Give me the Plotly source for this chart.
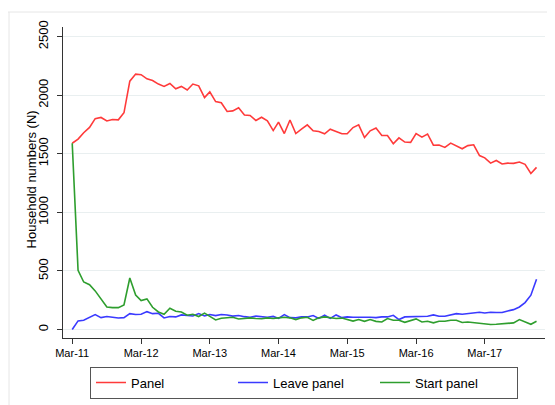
import pandas as pd
import plotly.graph_objects as go

months = pd.date_range("2011-03-01", periods=82, freq="MS")

panel = [1590, 1625, 1680, 1725, 1800, 1810, 1780, 1793, 1790, 1850,
         2120, 2180, 2175, 2140, 2125, 2095, 2075, 2100, 2055, 2075,
         2045, 2095, 2080, 1980, 2028, 1945, 1935, 1861, 1866, 1893,
         1831, 1827, 1784, 1812, 1781, 1698, 1770, 1673, 1788, 1673,
         1710, 1747, 1696, 1690, 1671, 1710, 1690, 1671, 1671, 1724,
         1747, 1639, 1696, 1720, 1656, 1656, 1585, 1636, 1600, 1598,
         1672, 1642, 1669, 1573, 1574, 1554, 1591, 1568, 1543, 1570,
         1577, 1485, 1465, 1420, 1443, 1413, 1420, 1418, 1430, 1410,
         1332, 1384]

leave_panel = [0, 74, 80, 102, 128, 102, 111, 105, 99, 102,
               136, 128, 131, 153, 136, 139, 99, 111, 108, 125,
               122, 116, 136, 116, 128, 119, 128, 125, 115, 120,
               110, 105, 115, 110, 105, 112, 95, 128, 102, 100,
               108, 108, 120, 95, 122, 95, 125, 102, 108, 105,
               102, 105, 105, 102, 108, 108, 122, 85, 108, 108,
               108, 108, 114, 125, 114, 114, 122, 136, 131, 136,
               142, 148, 142, 148, 145, 145, 159, 170, 193, 230,
               293, 430]

start_panel = [1590, 506, 406, 383, 330, 264, 193, 187, 187, 210,
               440, 295, 247, 262, 190, 150, 131, 182, 156, 150,
               122, 131, 111, 140, 115, 82, 97, 100, 105, 90,
               95, 100, 95, 92, 100, 95, 100, 105, 100, 85,
               100, 105, 78, 100, 108, 100, 95, 98, 85, 72,
               85, 70, 85, 70, 65, 94, 80, 80, 62, 74,
               91, 65, 71, 57, 71, 71, 80, 80, 60, 65,
               60, 51, 51, 43, 45, 51, 51, 57, 85, 62,
               45, 71]

tick_dates = ["2011-03-01", "2012-03-01", "2013-03-01", "2014-03-01",
              "2015-03-01", "2016-03-01", "2017-03-01"]
tick_labels = ["Mar-11", "Mar-12", "Mar-13", "Mar-14", "Mar-15", "Mar-16", "Mar-17"]
y_ticks = [0, 500, 1000, 1500, 2000, 2500]
y_title = "Household numbers (N)"

series = [("Panel", panel, "#ff3a3a"),
          ("Leave panel", leave_panel, "#3a3aff"),
          ("Start panel", start_panel, "#2e9e2e")]

fig = go.Figure()
for name, vals, col in series:
    fig.add_trace(go.Scatter(x=months, y=vals, mode="lines", name=name,
                             line=dict(color=col, width=1.6)))

font_family = "Liberation Sans, Arial, sans-serif"
fig.update_layout(
    width=547, height=397,
    margin=dict(l=55, r=10, t=19, b=67, autoexpand=False),
    paper_bgcolor="white", plot_bgcolor="white",
    font=dict(family=font_family, color="black", size=13),
    showlegend=True,
    legend=dict(orientation="h", x=0.5, xanchor="center", y=-0.092, yanchor="top",
                bordercolor="#555555", borderwidth=1, bgcolor="white",
                font=dict(size=13), entrywidth=97, entrywidthmode="pixels",
                traceorder="normal"),
    xaxis=dict(type="date", range=["2011-01-11", "2018-01-15"],
               tickvals=tick_dates, ticktext=tick_labels, automargin=False,
               tickfont=dict(size=11), ticks="outside", ticklen=5, tickcolor="#333333",
               showline=True, linecolor="#333333", linewidth=1,
               showgrid=False, zeroline=False),
    yaxis=dict(range=[-72, 2582], tickvals=y_ticks, tickangle=-90, automargin=False,
               tickfont=dict(size=13), ticks="outside", ticklen=5, tickcolor="#333333",
               ticklabelstandoff=4,
               showline=True, linecolor="#333333", linewidth=1,
               showgrid=True, gridcolor="#e9eff0", gridwidth=1, zeroline=False),
)

fig.add_annotation(text=y_title, xref="paper", yref="paper",
                   x=(23 - 55) / 482, y=0.51, textangle=-90, showarrow=False,
                   xanchor="center", yanchor="middle", font=dict(size=13))

# faint outer frame of the graph region
fig.add_shape(type="line", xref="paper", yref="paper",
              x0=-55 / 482, x1=1.1, y0=(330 - 4) / 311, y1=(330 - 4) / 311,
              line=dict(color="#e6e6e6", width=1))
fig.add_shape(type="line", xref="paper", yref="paper",
              x0=-54 / 482, x1=-54 / 482, y0=(330 - 4) / 311, y1=-0.3,
              line=dict(color="#e6e6e6", width=1))

fig.write_html("out.html")
